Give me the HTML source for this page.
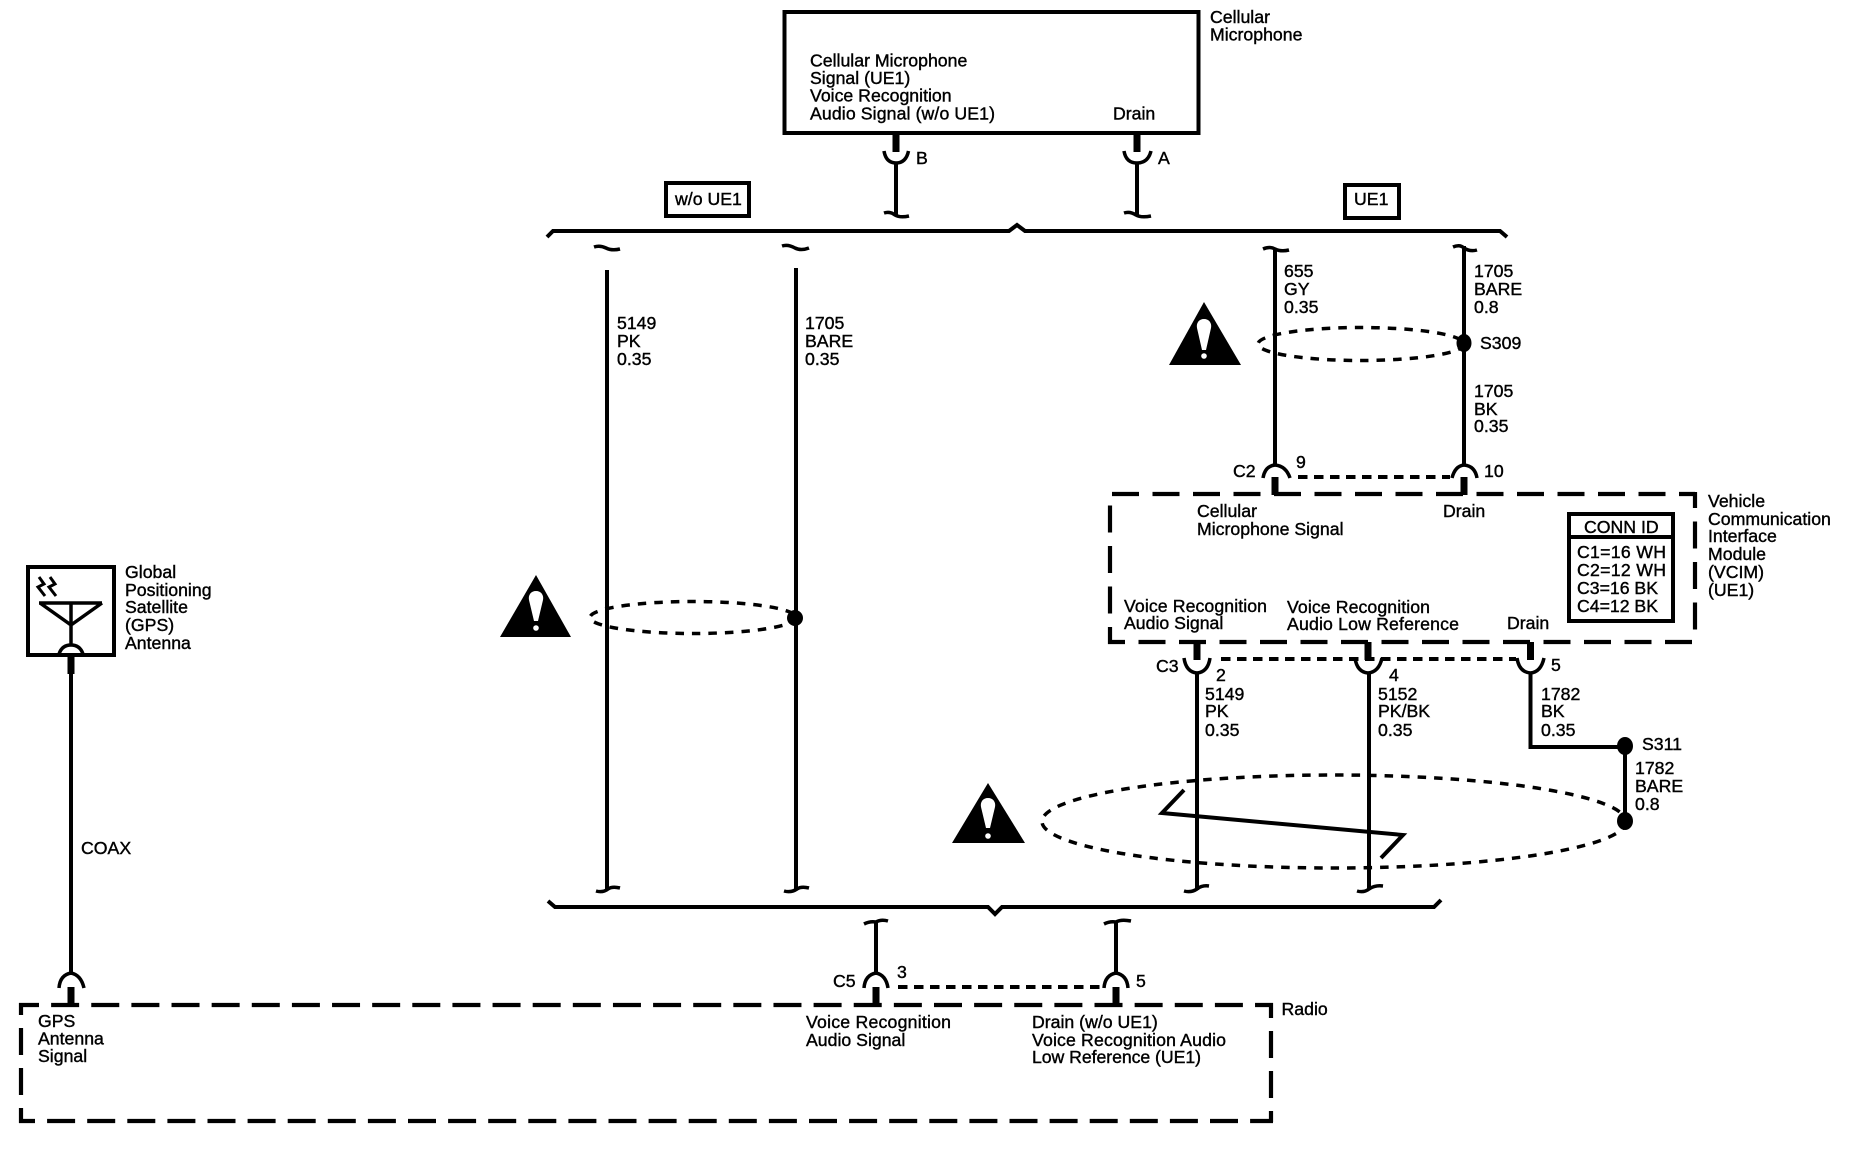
<!DOCTYPE html>
<html><head><meta charset="utf-8"><style>
html,body{margin:0;padding:0;background:#fff}
svg{display:block}
text{font-family:"Liberation Sans",sans-serif;font-size:17.7px;fill:#000;stroke:#000;stroke-width:.4}
.l{fill:none;stroke:#000;stroke-width:4}
.t{fill:none;stroke:#000;stroke-width:3.5}
.s{fill:none;stroke:#000;stroke-width:7}
.d{fill:none;stroke:#000;stroke-width:4.2}
.o{fill:none;stroke:#000;stroke-width:3.5;stroke-dasharray:8.5 8}
.c{fill:none;stroke:#000;stroke-width:4;stroke-dasharray:9.5 6.5}
</style></head><body>
<svg width="1856" height="1152" viewBox="0 0 1856 1152" xmlns="http://www.w3.org/2000/svg">
<rect width="1856" height="1152" fill="#fff"/>

<!-- Cellular microphone -->
<rect class="l" x="784.5" y="12" width="414" height="121"/>
<text x="810" y="66.5">Cellular Microphone</text>
<text x="810" y="84">Signal (UE1)</text>
<text x="810" y="101.7">Voice Recognition</text>
<text x="810" y="119.5" textLength="185">Audio Signal (w/o UE1)</text>
<text x="1113" y="119.5">Drain</text>
<text x="1210" y="23">Cellular</text>
<text x="1210" y="40.7">Microphone</text>
<path class="s" d="M896,133V152M1137,133V152"/>
<path class="t" d="M884,151Q886,163 896,163Q906,163 908.5,151M1124,151Q1126,163 1137,163Q1148,163 1151,151"/>
<path class="l" d="M896,162V216M1137,162V216"/>
<path class="t" d="M884,213Q890,211 895,215Q900,218 909,216M1124,213Q1130,211 1136,215Q1141,218 1151,216"/>
<text x="916" y="164">B</text>
<text x="1158" y="164">A</text>

<!-- Upper bus -->
<path class="l" d="M547,237L553,231H1009L1017,225L1025,231H1500L1507,237"/>
<rect class="l" x="666" y="183" width="83" height="33"/>
<text x="675" y="205">w/o UE1</text>
<rect class="l" x="1345" y="185" width="54" height="33"/>
<text x="1354" y="205">UE1</text>

<!-- w/o UE1 wires -->
<path class="t" d="M594,247Q600,245 606,248Q612,251 620,249M782,246Q788,244 795,248Q801,251 809,248"/>
<path class="l" d="M607,270V890M796,268V890"/>
<path class="t" d="M596,891Q603,893 608,889Q612,886 620,888M784,891Q791,893 797,889Q801,886 809,888"/>
<text x="617" y="329">5149</text><text x="617" y="347">PK</text><text x="617" y="365">0.35</text>
<text x="805" y="329">1705</text><text x="805" y="347">BARE</text><text x="805" y="365">0.35</text>
<ellipse class="o" cx="693" cy="617.5" rx="103" ry="16"/>
<circle cx="795" cy="618" r="8"/>
<path d="M536,575L571,637H500Z"/>
<path fill="#fff" d="M536,591C541,591 544,595 543,600L538,621H534L529,600C528,595 531,591 536,591Z"/>
<circle cx="536" cy="628" r="2.8" fill="#fff"/>

<!-- UE1 upper wires -->
<path class="t" d="M1263,249Q1270,246 1275,249Q1281,252 1289,250M1453,247Q1460,244 1464,248Q1470,252 1477,250"/>
<path class="l" d="M1275,248V466"/>
<path class="l" d="M1464,246V466"/>
<text x="1284" y="277">655</text><text x="1284" y="295">GY</text><text x="1284" y="313">0.35</text>
<text x="1474" y="277">1705</text><text x="1474" y="295">BARE</text><text x="1474" y="313">0.8</text>
<text x="1480" y="349">S309</text>
<text x="1474" y="397">1705</text><text x="1474" y="415">BK</text><text x="1474" y="432">0.35</text>
<ellipse class="o" cx="1361" cy="344" rx="103" ry="16.5"/>
<ellipse cx="1464" cy="343" rx="7.5" ry="9"/>
<path d="M1204,302L1241,365H1169Z"/>
<path fill="#fff" d="M1204,319C1209,319 1212,323 1211,328L1206,350H1202L1197,328C1196,323 1199,319 1204,319Z"/>
<circle cx="1204" cy="356" r="2.8" fill="#fff"/>

<!-- C2 -->
<path class="t" d="M1263,478Q1265,466 1275,465Q1286,466 1290,478M1452,478Q1455,466 1464,465Q1475,466 1477,478"/>
<path class="s" d="M1275,477V495M1464,477V495"/>
<path class="c" d="M1298,477H1450"/>
<text x="1233" y="477">C2</text><text x="1296" y="468">9</text><text x="1484" y="477">10</text>

<!-- VCIM -->
<path class="d" d="M1112,494H1695" stroke-dasharray="27 13.5"/>
<path class="d" d="M1695,492V630" stroke-dasharray="27 13.5" stroke-dashoffset="11"/>
<path class="d" d="M1108,642H1693" stroke-dasharray="27 13.5" stroke-dashoffset="10"/>
<path class="d" d="M1110,644V505" stroke-dasharray="27 13.5" stroke-dashoffset="10"/>
<text x="1197" y="517">Cellular</text><text x="1197" y="535">Microphone Signal</text>
<text x="1443" y="517">Drain</text>
<text x="1124" y="612" textLength="143">Voice Recognition</text><text x="1124" y="629">Audio Signal</text>
<text x="1287" y="613" textLength="143">Voice Recognition</text><text x="1287" y="630" textLength="172">Audio Low Reference</text>
<text x="1507" y="629">Drain</text>
<text x="1708" y="507">Vehicle</text><text x="1708" y="525">Communication</text><text x="1708" y="542">Interface</text><text x="1708" y="560">Module</text><text x="1708" y="578">(VCIM)</text><text x="1708" y="596">(UE1)</text>
<rect class="l" x="1569" y="514" width="104" height="107"/>
<path class="l" d="M1569,537H1673"/>
<text x="1584" y="533">CONN ID</text>
<text x="1577" y="558" textLength="89">C1=16 WH</text><text x="1577" y="576" textLength="89">C2=12 WH</text><text x="1577" y="594" textLength="81">C3=16 BK</text><text x="1577" y="612" textLength="81">C4=12 BK</text>

<!-- C3 -->
<path class="s" d="M1197,642V660M1368,642V660M1530.5,642V660"/>
<path class="t" d="M1184,658Q1186,672 1197,673Q1208,672 1210,658M1355,658Q1357,672 1368,673Q1379,672 1382,658M1517,658Q1519,672 1530.5,673Q1541,672 1544,658"/>
<path class="c" d="M1221,659H1516"/>
<path class="l" d="M1197,672V890M1369,672V890"/>
<path class="l" d="M1530.5,672V747H1625V821"/>
<ellipse cx="1625" cy="746" rx="8" ry="9"/>
<ellipse cx="1625" cy="821" rx="8" ry="9"/>
<text x="1156" y="672">C3</text><text x="1216" y="681">2</text><text x="1389" y="681">4</text><text x="1551" y="671">5</text>
<text x="1205" y="700">5149</text><text x="1205" y="717">PK</text><text x="1205" y="736">0.35</text>
<text x="1378" y="700">5152</text><text x="1378" y="717">PK/BK</text><text x="1378" y="736">0.35</text>
<text x="1541" y="700">1782</text><text x="1541" y="717">BK</text><text x="1541" y="736">0.35</text>
<text x="1642" y="750">S311</text>
<text x="1635" y="774">1782</text><text x="1635" y="792">BARE</text><text x="1635" y="810">0.8</text>
<ellipse class="o" cx="1334" cy="821.5" rx="292" ry="46.5"/>
<path class="l" d="M1184,790L1162,813L1403,835L1381,858"/>
<path d="M988,783L1025,843H952Z"/>
<path fill="#fff" d="M988,798C993,798 996,802 995,807L990,828H986L981,807C980,802 983,798 988,798Z"/>
<circle cx="988" cy="836" r="2.8" fill="#fff"/>
<path class="t" d="M1184,891Q1191,893 1197,889Q1202,885 1209,886M1357,891Q1364,893 1369,889Q1375,885 1383,886"/>

<!-- Lower bus -->
<path class="l" d="M548,901L555,907H988L995,914L1002,907H1434L1441,900"/>

<!-- C5 -->
<path class="t" d="M864,924Q870,921 876,922Q881,919 888,921M1104,924Q1110,921 1116,922Q1121,919 1131,921"/>
<path class="l" d="M876,922V975M1116,922V975"/>
<path class="t" d="M864,988Q865,975 876,973Q886,975 888,988M1104,988Q1105,975 1116,973Q1127,975 1128,988"/>
<path class="s" d="M876,987V1005M1116,987V1005"/>
<path class="c" d="M898,987H1103"/>
<text x="833" y="987">C5</text><text x="897" y="978">3</text><text x="1136" y="987">5</text>

<!-- Radio -->
<path class="d" d="M19,1005H1273" stroke-dasharray="28 12.13" stroke-dashoffset="8"/>
<path class="d" d="M1271,1003V1122" stroke-dasharray="27 13" stroke-dashoffset="12"/>
<path class="d" d="M19,1121H1273" stroke-dasharray="28 12.1" stroke-dashoffset="12"/>
<path class="d" d="M21,1123V1003" stroke-dasharray="27 13" stroke-dashoffset="12"/>
<text x="1281.5" y="1015">Radio</text>
<text x="38" y="1027">GPS</text><text x="38" y="1044.5">Antenna</text><text x="38" y="1062">Signal</text>
<text x="806" y="1028" textLength="145">Voice Recognition</text><text x="806" y="1046">Audio Signal</text>
<text x="1032" y="1028">Drain (w/o UE1)</text><text x="1032" y="1046" textLength="194">Voice Recognition Audio</text><text x="1032" y="1063" textLength="169">Low Reference (UE1)</text>

<!-- GPS antenna -->
<rect class="l" x="28" y="567" width="86" height="88"/>
<path class="s" d="M71,657V674"/>
<path class="l" d="M71,673V975"/>
<path class="t" d="M59,988Q60,975 71,973Q81,975 84,988"/>
<path class="s" d="M71,987V1005"/>
<path class="t" d="M39,603H102M40,603L71,625L102,603M71,603V646M59,654Q62,645 71,645Q80,645 83,654"/>
<path class="t" style="stroke-width:3" d="M39,577L44,584L38,587L45,596M50,577L55,584L49,587L56,596"/>
<text x="125" y="578">Global</text><text x="125" y="596">Positioning</text><text x="125" y="613">Satellite</text><text x="125" y="631">(GPS)</text><text x="125" y="649">Antenna</text>
<text x="81" y="854">COAX</text>
</svg>
</body></html>
